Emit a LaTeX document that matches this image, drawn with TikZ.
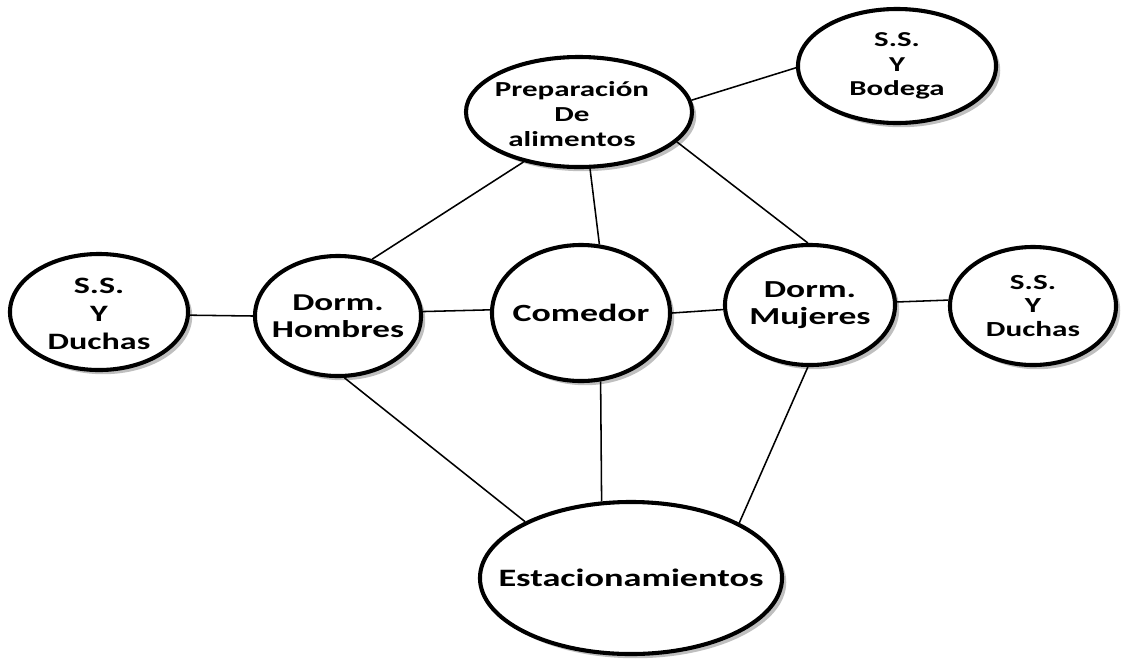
\documentclass[tikz,border=0pt]{standalone}
\usepackage{fontspec}
\setmainfont{Carlito}[FakeStretch=1.45]
\usetikzlibrary{shapes.geometric,shadows}
\newcommand{\fsz}[2]{\bfseries\fontsize{#1}{#2}\selectfont}
\tikzset{
  room/.style={ellipse, draw=black, line width=2.9pt, fill=white, inner sep=0pt,
    drop shadow={opacity=0.25, shadow xshift=3pt, shadow yshift=-3pt, fill=black}},
  txt/.style={align=center, inner sep=0pt},
  link/.style={line width=1.1pt, black}
}
\begin{document}
\begin{tikzpicture}[x=0.025cm, y=-0.025cm]
\useasboundingbox (0,0) rectangle (1125,666);
\node[room, minimum width=5.65cm, minimum height=2.75cm] (prep) at (579,112) {};
\node[txt, font=\fsz{15.2}{17.5}] (tprep) at (572,114) {Preparación\\De\\alimentos};
\node[room, minimum width=4.95cm, minimum height=2.85cm] (bod) at (897,66) {};
\node[txt, font=\fsz{15.1}{17.5}] (tbod) at (bod) {S.S.\\Y\\Bodega};
\node[room, minimum width=4.45cm, minimum height=2.9cm] (ssl) at (99,312) {};
\node[txt, font=\fsz{16.7}{20}] (tssl) at (99,314) {S.S.\\Y\\Duchas};
\node[room, minimum width=4.15cm, minimum height=3.0cm] (dh) at (338,316) {};
\node[txt, font=\fsz{17.2}{19}] (tdh) at (dh) {Dorm.\\Hombres};
\node[room, minimum width=4.45cm, minimum height=3.4cm] (com) at (581,313) {};
\node[txt, font=\fsz{17.6}{19}] (tcom) at (com) {Comedor};
\node[room, minimum width=4.25cm, minimum height=3.0cm] (dm) at (810,305) {};
\node[txt, font=\fsz{17.4}{19}] (tdm) at (dm) {Dorm.\\Mujeres};
\node[room, minimum width=4.15cm, minimum height=2.95cm] (ssr) at (1033,306) {};
\node[txt, font=\fsz{15.3}{16.5}] (tssr) at (ssr) {S.S.\\Y\\Duchas};
\node[room, minimum width=7.55cm, minimum height=3.8cm] (est) at (631,578) {};
\node[txt, font=\fsz{17.8}{20}] (test) at (est) {Estacionamientos};
\draw[link] (prep.6) -- (bod.181);
\draw[link] (prep.222) -- (dh.59);
\draw[link] (prep.281) -- (com.75);
\draw[link] (prep.343) -- (dm.92);
\draw[link] (ssl.-2.5) -- (dh.west);
\draw[link] (dh.3.4) -- (com.178.7);
\draw[link] (com.east) -- (dm.183.3);
\draw[link] (dm.2.6) -- (ssr.176.6);
\draw[link] (dh.276) -- (est.152);
\draw[link] (com.286) -- (est.111);
\draw[link] (dm.268) -- (est.27);
\end{tikzpicture}
\end{document}
